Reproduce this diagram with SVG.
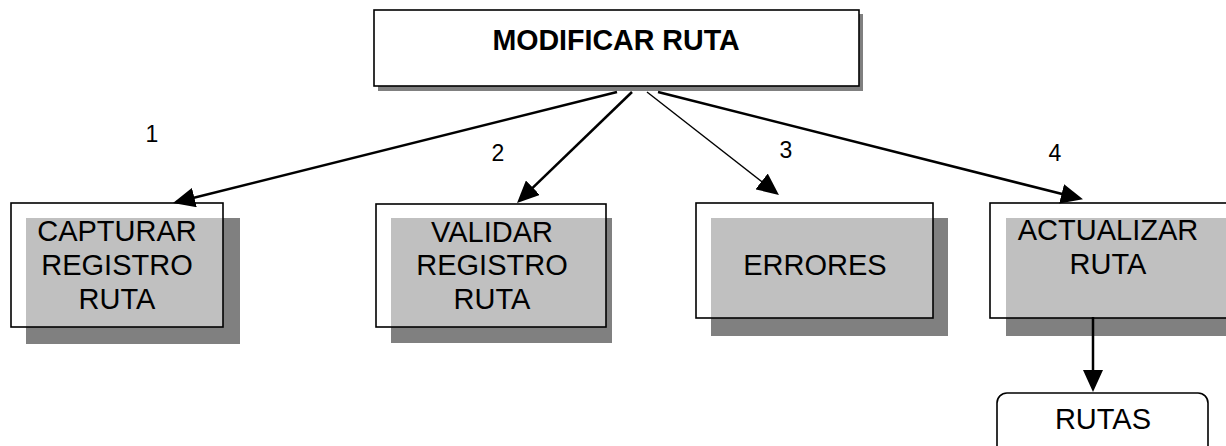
<svg xmlns="http://www.w3.org/2000/svg" width="1226" height="446" viewBox="0 0 1226 446">
<style>
.shadow{fill:#808080;stroke:none}
.box{fill:#ffffff;fill-opacity:0.5;stroke:#000;stroke-width:1.6}
.top{fill:#ffffff;stroke:#000;stroke-width:1.6}
.t{font-family:"Liberation Sans",Arial,sans-serif;font-size:29px;fill:#000;text-anchor:middle}
.b{font-weight:bold;font-size:28.6px}
.n{font-family:"Liberation Sans",Arial,sans-serif;font-size:23px;fill:#000;text-anchor:middle}
.c{fill:none;stroke:#000;stroke-width:2.5}
.thin{stroke-width:1.4}
</style>
<defs>
<marker id="ah" markerUnits="userSpaceOnUse" markerWidth="22" markerHeight="20" refX="18" refY="10" orient="auto" viewBox="0 0 22 20">
<path d="M0,0 L22,10 L0,20 z" fill="#000"/>
</marker>
</defs>
<rect width="1226" height="446" fill="#fff"/>
<g id="modificar">
<rect class="shadow" x="378" y="14" width="485" height="77"/>
<rect class="top" x="374" y="10" width="485" height="76"/>
<text class="t b" x="616" y="50">MODIFICAR RUTA</text>
</g>
<g id="capturar">
<rect class="shadow" x="26" y="218" width="214" height="126"/>
<rect class="box" x="11" y="203" width="212" height="124"/>
<text class="t" x="117" y="241">CAPTURAR</text>
<text class="t" x="117" y="274.5">REGISTRO</text>
<text class="t" x="117" y="308.5">RUTA</text>
</g>
<g id="validar">
<rect class="shadow" x="391" y="218" width="221" height="125"/>
<rect class="box" x="376" y="204" width="230" height="123"/>
<text class="t" x="492" y="241.5">VALIDAR</text>
<text class="t" x="492" y="274.5">REGISTRO</text>
<text class="t" x="492" y="308.5">RUTA</text>
</g>
<g id="errores">
<rect class="shadow" x="711" y="218" width="237" height="118"/>
<rect class="box" x="696" y="203" width="237" height="115"/>
<text class="t" x="815" y="274.5">ERRORES</text>
</g>
<g id="actualizar">
<rect class="shadow" x="1006" y="218" width="240" height="118"/>
<rect class="box" x="990" y="203" width="250" height="115"/>
<text class="t" x="1108" y="239.5">ACTUALIZAR</text>
<text class="t" x="1108" y="273.5">RUTA</text>
</g>
<g id="rutas">
<rect x="997" y="393" width="211" height="70" rx="10" ry="10" fill="#fff" stroke="#000" stroke-width="1.6"/>
<text class="t" x="1103" y="428.5">RUTAS</text>
</g>
<g id="labels">
<text class="n" x="152" y="141.5">1</text>
<text class="n" x="498" y="160.5">2</text>
<text class="n" x="786" y="158">3</text>
<text class="n" x="1055" y="160.5">4</text>
</g>
<g id="connectors">
<line class="c" x1="617" y1="92" x2="176.9" y2="202" marker-end="url(#ah)"/>
<line class="c" x1="632" y1="92" x2="519.9" y2="200.2" marker-end="url(#ah)"/>
<line class="c thin" x1="647" y1="92" x2="775.8" y2="192.5" marker-end="url(#ah)"/>
<line class="c" x1="658" y1="92" x2="1079.1" y2="198.3" marker-end="url(#ah)"/>
<line class="c" x1="1093" y1="317" x2="1093" y2="388" stroke-width="2" marker-end="url(#ah)"/>
</g>
</svg>
